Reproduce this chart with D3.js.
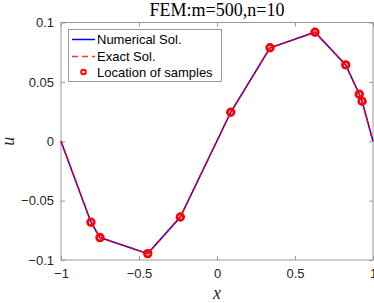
<!DOCTYPE html>
<html>
<head>
<meta charset="utf-8">
<script src="https://cdn.jsdelivr.net/npm/d3@7"></script>
<style>
  body { margin: 0; background: #fff; }
  svg { display: block; }
</style>
</head>
<body>
<svg id="chart" width="374" height="303"></svg>
<script>
// node values
var xs = [-1, -0.808, -0.75, -0.444, -0.235, 0.088, 0.340, 0.628, 0.825, 0.912, 0.930, 1];
var uNum = [0, -0.0682, -0.0811, -0.0946, -0.0638, 0.0244, 0.0787, 0.0918, 0.0643, 0.0396, 0.0337, 0];
var uExact = [0, -0.0682, -0.0811, -0.0946, -0.0638, 0.0244, 0.0787, 0.0918, 0.0643, 0.0396, 0.0337, 0];
// sample locations (interior nodes)
var sampleX = [-0.808, -0.75, -0.444, -0.235, 0.088, 0.340, 0.628, 0.825, 0.912, 0.930];
var sampleU = [-0.0682, -0.0811, -0.0946, -0.0638, 0.0244, 0.0787, 0.0918, 0.0643, 0.0396, 0.0337];
var xTicks = [-1, -0.5, 0, 0.5, 1];
var yTicks = [-0.1, -0.05, 0, 0.05, 0.1];
var legendLabels = ["Numerical Sol.", "Exact Sol.", "Location of samples"];

var svg = d3.select("#chart");
var margin = { left: 61, right: 1, top: 22.5, bottom: 43 };
var W = 374, H = 303;

var x = d3.scaleLinear().domain([-1, 1]).range([margin.left, W - margin.right]);
var y = d3.scaleLinear().domain([-0.1, 0.1]).range([H - margin.bottom, margin.top]);

var axisCol = "#262626";
var sans = "Liberation Sans, Arial, sans-serif";
var serif = "Liberation Serif, Times New Roman, serif";

// frame box
svg.append("rect")
  .attr("x", x(-1)).attr("y", y(0.1))
  .attr("width", x(1) - x(-1)).attr("height", y(-0.1) - y(0.1))
  .attr("fill", "none").attr("stroke", "#999").attr("stroke-width", 1);

// axes (ticks inward)
var gx = svg.append("g").attr("transform", "translate(0," + y(-0.1) + ")")
  .call(d3.axisBottom(x).tickValues(xTicks).tickSize(-4).tickPadding(9).tickFormat(d3.format("")));
var gxt = svg.append("g").attr("transform", "translate(0," + y(0.1) + ")")
  .call(d3.axisTop(x).tickValues(xTicks).tickSize(-4).tickFormat(""));
var gy = svg.append("g").attr("transform", "translate(" + x(-1) + ",0)")
  .call(d3.axisLeft(y).tickValues(yTicks).tickSize(-4).tickPadding(7).tickFormat(d3.format("")));
var gyr = svg.append("g").attr("transform", "translate(" + x(1) + ",0)")
  .call(d3.axisRight(y).tickValues(yTicks).tickSize(-4).tickFormat(""));

[gx, gxt, gy, gyr].forEach(function (g) {
  g.select(".domain").remove();
  g.selectAll(".tick line").attr("stroke", "#999");
  g.selectAll(".tick text").attr("fill", axisCol).style("font-family", sans).style("font-size", "13px");
});

// lines
var line = d3.line()
  .x(function (d) { return x(d[0]); })
  .y(function (d) { return y(d[1]); });

svg.append("path")
  .datum(d3.zip(xs, uNum))
  .attr("fill", "none").attr("stroke", "#0000ff").attr("stroke-width", 1.5)
  .attr("d", line);

svg.append("path")
  .datum(d3.zip(xs, uExact))
  .attr("fill", "none").attr("stroke", "#ff0000").attr("stroke-width", 1.5)
  .attr("stroke-dasharray", "5,3")
  .attr("d", line);

// sample markers
svg.append("g").selectAll("circle")
  .data(d3.zip(sampleX, sampleU))
  .join("circle")
  .attr("cx", function (d) { return x(d[0]); })
  .attr("cy", function (d) { return y(d[1]); })
  .attr("r", 3.3)
  .attr("fill", "none").attr("stroke", "#ff0000").attr("stroke-width", 2.8);

// title and labels
svg.append("text")
  .attr("x", x(0)).attr("y", 16)
  .attr("text-anchor", "middle")
  .style("font-family", serif).style("font-size", "18px")
  .attr("fill", "#000")
  .text("FEM:m=500,n=10");

svg.append("text")
  .attr("x", x(0)).attr("y", 299)
  .attr("text-anchor", "middle")
  .style("font-family", serif).style("font-style", "italic").style("font-size", "18px")
  .attr("fill", axisCol)
  .text("x");

svg.append("text")
  .attr("transform", "translate(14," + y(0) + ") rotate(-90)")
  .attr("text-anchor", "middle")
  .style("font-family", serif).style("font-style", "italic").style("font-size", "18px")
  .attr("fill", axisCol)
  .text("u");

// legend
var lg = svg.append("g");
lg.append("rect")
  .attr("x", 68.5).attr("y", 29.5).attr("width", 153).attr("height", 52)
  .attr("fill", "#fff").attr("stroke", "#999").attr("stroke-width", 1);

var rowY = [39.5, 56.5, 72];
legendLabels.forEach(function (lab, i) {
  var yy = rowY[i];
  if (i === 0) {
    lg.append("line").attr("x1", 72).attr("x2", 95).attr("y1", yy).attr("y2", yy)
      .attr("stroke", "#0000ff").attr("stroke-width", 1.5);
  } else if (i === 1) {
    lg.append("line").attr("x1", 72).attr("x2", 95).attr("y1", yy).attr("y2", yy)
      .attr("stroke", "#ff3333").attr("stroke-width", 1.5).attr("stroke-dasharray", "6,4");
  } else {
    lg.append("circle").attr("cx", 83.5).attr("cy", yy).attr("r", 2.3)
      .attr("fill", "none").attr("stroke", "#ff0000").attr("stroke-width", 2);
  }
  lg.append("text")
    .attr("x", 97).attr("y", yy + 4.5)
    .style("font-family", sans).style("font-size", "13px")
    .attr("fill", "#000")
    .text(lab);
});
</script>
</body>
</html>
